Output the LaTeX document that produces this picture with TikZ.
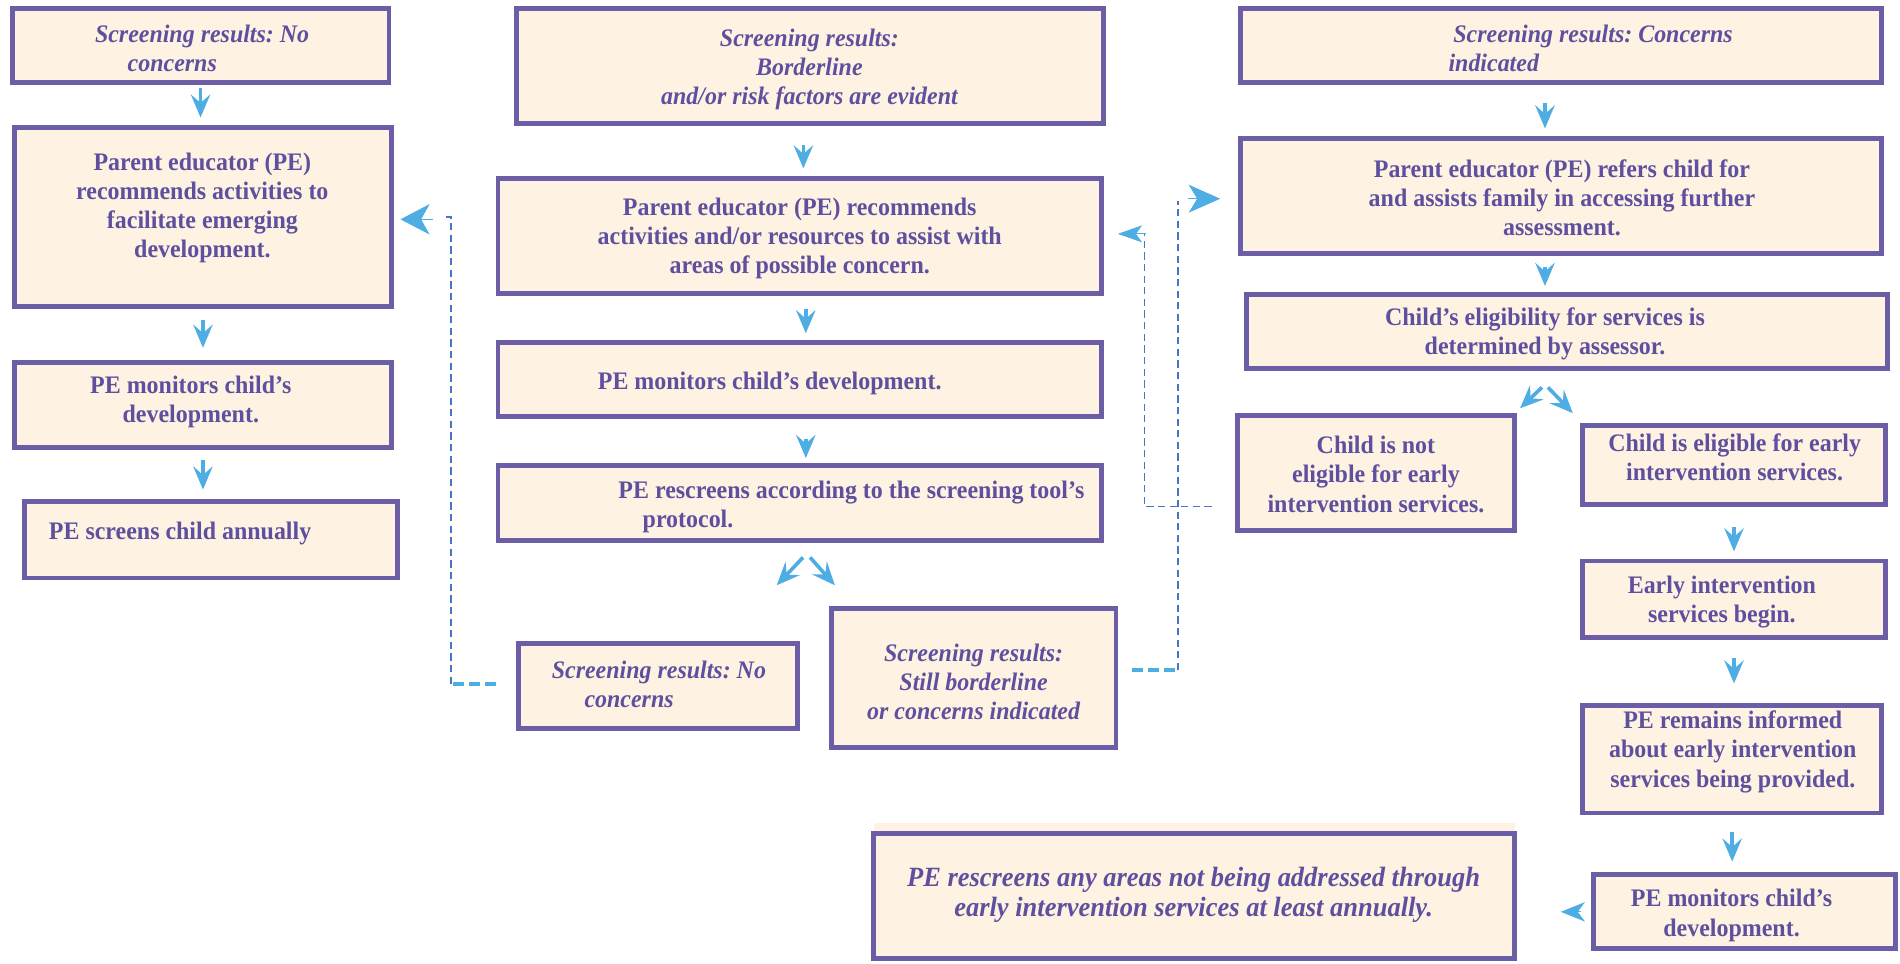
\documentclass[tikz,border=0pt]{standalone}
\usepackage{fontspec}
\setmainfont{Liberation Serif}[FakeStretch=0.95]
\frenchspacing
\usetikzlibrary{arrows.meta,calc}
\definecolor{boxfill}{HTML}{FEF3E2}
\definecolor{boxline}{HTML}{6B5DA6}
\definecolor{txtcol}{HTML}{5F4F9F}
\definecolor{arrblue}{HTML}{4EADE3}
\definecolor{dashblue}{HTML}{4874C6}
\tikzset{
  box/.style={draw=boxline, fill=boxfill, line width=2pt, inner sep=0pt},
  txt/.style={text=txtcol, inner sep=0pt, yshift=-0.75pt, font=\fontsize{10.4}{12}\selectfont\bfseries},
  itxt/.style={text=txtcol, inner sep=0pt, yshift=-0.75pt, font=\fontsize{10.4}{12}\selectfont\bfseries\itshape},
  btxt/.style={text=txtcol, inner sep=0pt, font=\fontsize{11.5}{12.5}\selectfont\bfseries\itshape},
  arr/.style={draw=arrblue, line width=1.5pt, -{Stealth[length=9.5pt,width=8pt,inset=3.5pt]}},
  bigL/.style={draw=arrblue, line width=0.3pt, -{Stealth[length=12pt,width=12.5pt,inset=3.5pt]}},
  bigR/.style={draw=arrblue, line width=0.3pt, -{Stealth[length=13pt,width=11.5pt,inset=3.5pt]}},
  midL/.style={draw=arrblue, line width=0.3pt, -{Stealth[length=10pt,width=7pt,inset=2.5pt]}},
  headB/.style={draw=arrblue, line width=0.3pt, -{Stealth[length=10pt,width=8pt,inset=3pt]}},
  thindash/.style={draw=dashblue, line width=0.7pt, dash pattern=on 3pt off 1.8pt},
  thickdash/.style={draw=arrblue, line width=1.5pt, dash pattern=on 4.5pt off 2pt},
}
\newcommand\mkbox[5]{\node[box, minimum width={(#4-#2)*0.5pt-2pt}, minimum height={(#5-#3)*0.5pt-2pt}] (#1) at ({(#2+#4)/2},{(#3+#5)/2}) {};}
\begin{document}
\begin{tikzpicture}[x=0.5pt,y=-0.5pt]
\useasboundingbox (0,0) rectangle (1568,795);
% boxes
\mkbox{L1}{8}{5}{323}{70}
\mkbox{L2}{10}{103}{325}{255}
\mkbox{L3}{10}{297}{325}{371}
\mkbox{L4}{18}{412}{330}{479}
\mkbox{M1}{424}{5}{913}{104}
\mkbox{M2}{409}{145}{911}{244}
\mkbox{M3}{409}{281}{911}{346}
\mkbox{M4}{409}{382}{911}{448}
\mkbox{M5}{426}{529}{660}{603}
\mkbox{M6}{684}{500}{923}{619}
\mkbox{R1}{1022}{5}{1555}{70}
\mkbox{R2}{1022}{112}{1555}{211}
\mkbox{R3}{1027}{241}{1560}{306}
\mkbox{R4}{1019}{341}{1252}{440}
\mkbox{R5}{1304}{349}{1558}{418}
\mkbox{R6}{1304}{461}{1558}{528}
\mkbox{R7}{1304}{580}{1555}{673}
\mkbox{R8}{1313}{720}{1566}{785}
\fill[boxfill] (721,679.5) rectangle (1250,686);
\mkbox{B1}{719}{686}{1252}{793}
% texts
\node[itxt, align=left, anchor=west] (L1t) at (78,38.5) {Screening results: No\\\hspace*{13.5pt}concerns};
\node[txt, align=center] (L2t) at (167,170) {Parent educator (PE)\\recommends activities to\\facilitate emerging\\development.};
\node[txt, align=center] (L3t) at (157.5,330) {PE monitors child’s\\development.};
\node[txt, anchor=west] (L4t) at (40,439) {PE screens child annually};
\node[itxt, align=center] (M1t) at (668,55.5) {Screening results:\\Borderline\\and/or risk factors are evident};
\node[txt, align=center] (M2t) at (660,195) {Parent educator (PE) recommends\\activities and/or resources to assist with\\areas of possible concern.};
\node[txt, anchor=west] (M3t) at (493,315) {PE monitors child’s development.};
\node[txt, align=left, anchor=west] (M4t) at (510,416.5) {PE rescreens according to the screening tool’s\\\hspace*{10pt}protocol.};
\node[itxt, align=left, anchor=west] (M5t) at (455,563) {Screening results: No\\\hspace*{13.5pt}concerns};
\node[itxt, align=center] (M6t) at (803.5,561) {Screening results:\\Still borderline\\or concerns indicated};
\node[itxt, align=left, anchor=west] (R1t) at (1195,38.5) {\hspace*{2pt}Screening results: Concerns\\indicated};
\node[txt, align=center] (R2t) at (1289,162) {Parent educator (PE) refers child for\\and assists family in accessing further\\assessment.};
\node[txt, align=center] (R3t) at (1275,274) {Child’s eligibility for services is\\determined by assessor.};
\node[txt, align=center] (R4t) at (1135.5,390) {Child is not\\eligible for early\\intervention services.};
\node[txt, align=center] (R5t) at (1431.5,376) {Child is eligible for early\\intervention services.};
\node[txt, align=center] (R6t) at (1421,495) {Early intervention\\services begin.};
\node[txt, align=center] (R7t) at (1430,619) {PE remains informed\\about early intervention\\services being provided.};
\node[txt, align=center] (R8t) at (1429,754) {PE monitors child’s\\development.};
\node[btxt, align=center] (B1t) at (985,738.5) {PE rescreens any areas not being addressed through\\early intervention services at least annually.};
% helper coordinates
\coordinate (cMa) at (663,0);
\coordinate (cMb) at (665,0);
\coordinate (cR) at (1275,0);
% straight arrows
\draw[arr, shorten <=1.5pt, shorten >=3pt] (L1.south) -- (L1.south |- L2.north);
\draw[arr, shorten <=4.5pt, shorten >=5pt] (L2.south) -- (L2.south |- L3.north);
\draw[arr, shorten <=4.5pt, shorten >=4pt] (L3.south) -- (L3.south |- L4.north);
\draw[arr, shorten <=8pt, shorten >=3pt] (cMa |- M1.south) -- (cMa |- M2.north);
\draw[arr, shorten <=5.5pt, shorten >=3pt] (cMb |- M2.south) -- (cMb |- M3.north);
\draw[arr, shorten <=8pt, shorten >=2pt] (cMb |- M3.south) -- (cMb |- M4.north);
\draw[arr, shorten <=7.5pt, shorten >=3pt] (cR |- R1.south) -- (cR |- R2.north);
\draw[arr, shorten <=4.5pt, shorten >=2.5pt] (cR |- R2.south) -- (cR |- R3.north);
\draw[arr, shorten <=8.5pt, shorten >=3pt] (R5.south) -- (R5.south |- R6.north);
\draw[arr, shorten <=7.5pt, shorten >=8pt] (R6.south) -- (R6.south |- R7.north);
\draw[arr, shorten <=7pt, shorten >=4.5pt] (R7.south) -- (R7.south |- R8.north);
\draw[headB, shorten <=4.25pt, shorten >=18pt] (R8.west) -- (R8.west -| B1.east);
% split arrows
\coordinate (sM5) at (641,483);
\coordinate (sM6) at (689,483);
\draw[arr] ($(M4.south)+(2.7,12)$) -- (sM5);
\draw[arr] ($(M4.south)+(8.5,12)$) -- (sM6);
\coordinate (sR4) at (1254.4,337);
\coordinate (sR5) at (1298,341);
\draw[arr] ($(R3.south)+(-21,13.7)$) -- (sR4);
\draw[arr] ($(R3.south)+(-16,13.7)$) -- (sR5);
% feedback 1: M5 -> L2
\coordinate (f1a) at (409,564.5);
\coordinate (f1b) at (372,564.5);
\coordinate (f1c) at (372,179);
\draw[thickdash] (f1a) -- (f1b);
\draw[thindash] (f1b) -- (f1c) -- ++(-4,0);
\draw[bigL] ($(L2.east)+(32,2)$) -- ($(L2.east)+(5.5,2)$);
% feedback 2: M6 -> R2
\coordinate (f2a) at (934.5,553);
\coordinate (f2b) at (972,553);
\coordinate (f2c) at (972,166);
\draw[thickdash] (f2a) -- (f2b);
\draw[thindash] (f2b) -- (f2c);
\draw[bigR] ($(R2.west)+(-42,2.5)$) -- ($(R2.west)+(-15,2.5)$);
% feedback 3: R4 -> M2
\coordinate (f3a) at (1000,418);
\coordinate (f3b) at (944.6,418);
\coordinate (f3c) at (944.6,193);
\draw[thindash] (f3a) -- (f3b) -- (f3c);
\draw[midL] ($(M2.east)+(35,-1.5)$) -- ($(M2.east)+(11.5,-1.5)$);
\end{tikzpicture}
\end{document}
